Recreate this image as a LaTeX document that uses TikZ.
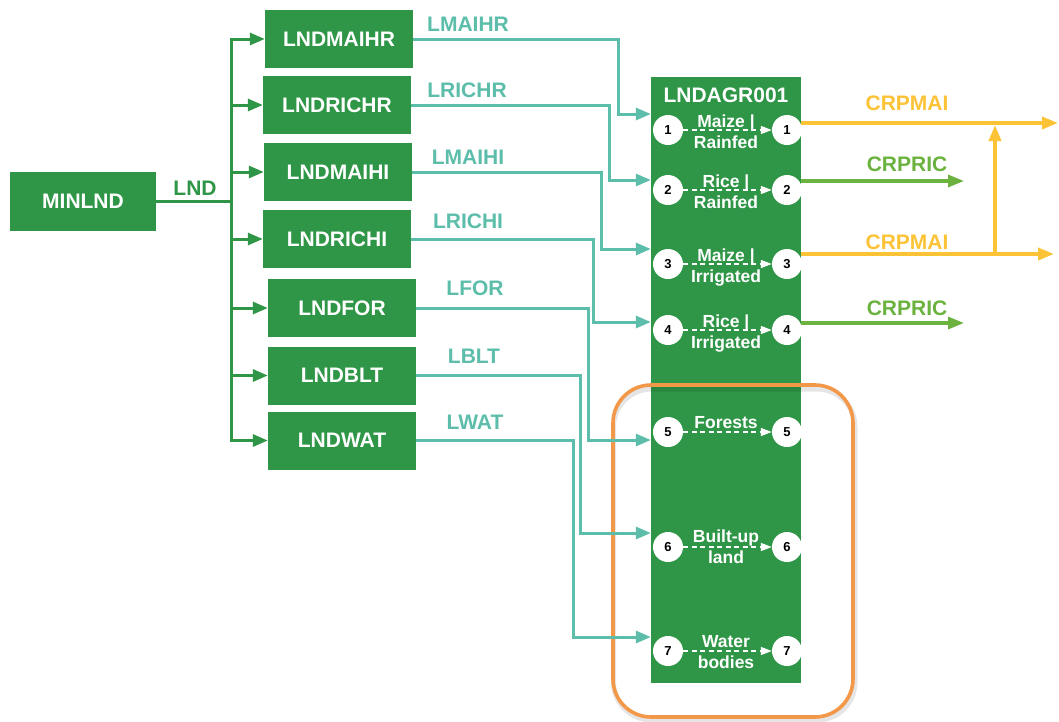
\documentclass[tikz,border=0pt]{standalone}
\usepackage{fontspec}
\setmainfont{Liberation Sans}
\usetikzlibrary{arrows.meta,calc}
\definecolor{dgreen}{RGB}{46,150,70}
\definecolor{tealc}{RGB}{92,190,170}
\definecolor{yel}{RGB}{252,195,55}
\definecolor{lgreen}{RGB}{108,178,62}
\definecolor{orng}{RGB}{243,152,72}
\tikzset{
  box/.style={fill=dgreen, draw=none, minimum width=148pt, minimum height=58pt, inner sep=0pt,
    text=white, font=\fontsize{21}{24}\selectfont\bfseries},
  big/.style={font=\fontsize{21}{24}\selectfont\bfseries, inner sep=0pt},
  inlbl/.style={font=\fontsize{17.5}{20}\selectfont\bfseries, text=white, inner sep=0pt, anchor=base},
  port/.style={circle, fill=white, draw=none, minimum size=30pt, inner sep=0pt,
    font=\fontsize{13}{15}\selectfont\bfseries, text=black},
  garrow/.style={draw=dgreen, line width=3pt, -{Triangle[length=15pt,width=12pt]}},
  tarrow/.style={draw=tealc, line width=3pt, -{Triangle[length=15pt,width=12pt]}},
  yarrow/.style={draw=yel, line width=3.6pt, -{Triangle[length=16pt,width=12pt]}},
  lgarrow/.style={draw=lgreen, line width=3.2pt, -{Triangle[length=16pt,width=12pt]}},
  darrow/.style={draw=white, line width=1.4pt, dash pattern=on 5pt off 3.5pt, -{Triangle[length=11pt,width=8pt]}},
}
\begin{document}
\begin{tikzpicture}[x=1pt,y=-1pt]
\useasboundingbox (0,0) rectangle (1059,721);
\fill[white] (0,0) rectangle (1059,721);

% left boxes
\node[box, minimum width=146pt, minimum height=59pt] (MINLND) at (83,201.5) {MINLND};
\node[box] (LNDMAIHR) at (339,39) {LNDMAIHR};
\node[box] (LNDRICHR) at (337,105) {LNDRICHR};
\node[box] (LNDMAIHI) at (338,172) {LNDMAIHI};
\node[box] (LNDRICHI) at (337,239) {LNDRICHI};
\node[box] (LNDFOR) at (342,308) {LNDFOR};
\node[box] (LNDBLT) at (342,375.5) {LNDBLT};
\node[box] (LNDWAT) at (342,440.5) {LNDWAT};

% trunk
\coordinate (trunk) at (231,201.5);
\draw[dgreen, line width=3pt] (MINLND.east) -- (trunk);
\node[big, text=dgreen] (lndlbl) at (195,188) {LND};
\foreach \b in {LNDMAIHR,LNDRICHR,LNDMAIHI,LNDRICHI,LNDFOR,LNDBLT,LNDWAT}
  \draw[garrow] (trunk) |- (\b.west);

% central box
\node[fill=dgreen, minimum width=150pt, minimum height=606pt, inner sep=0pt] (AGR) at (726,380) {};

% orange highlight with shadow
\draw[black, opacity=0.10, line width=5pt, rounded corners=38pt] (613.5,389) rectangle (855,720);
\draw[orng, line width=3.6pt, rounded corners=38pt] (613,385) rectangle (853,717);

\node[big, text=white] (agrtitle) at (726,95) {LNDAGR001};

% ports
\foreach \i/\y in {1/130,2/190,3/264,4/330,5/432,6/547,7/651}{
  \node[port] (L\i) at (668,\y) {\i};
  \node[port] (R\i) at (787,\y) {\i};
  \draw[darrow] (L\i) -- (R\i);
}
% inner labels
\node[inlbl] (t1a) at (726,127) {Maize |};
\node[inlbl] (t1b) at (726,148) {Rainfed};
\node[inlbl] (t2a) at (726,187) {Rice |};
\node[inlbl] (t2b) at (726,208) {Rainfed};
\node[inlbl] (t3a) at (726,261) {Maize |};
\node[inlbl] (t3b) at (726,282) {Irrigated};
\node[inlbl] (t4a) at (726,327) {Rice |};
\node[inlbl] (t4b) at (726,348) {Irrigated};
\node[inlbl] (t5a) at (726,428) {Forests};
\node[inlbl] (t6a) at (726,542) {Built-up};
\node[inlbl] (t6b) at (726,563) {land};
\node[inlbl] (t7a) at (726,647) {Water};
\node[inlbl] (t7b) at (726,668) {bodies};

% input coordinates
\coordinate (in1) at (AGR.west |- 0,114);
\coordinate (in2) at (AGR.west |- 0,180);
\coordinate (in3) at (AGR.west |- 0,249);
\coordinate (in4) at (AGR.west |- 0,322);
\coordinate (in5) at (AGR.west |- 0,440);
\coordinate (in6) at (AGR.west |- 0,533);
\coordinate (in7) at (AGR.west |- 0,637);
\coordinate (b1) at (618,114);
\coordinate (b2) at (609,180);
\coordinate (b3) at (601,249);
\coordinate (b4) at (593,322);
\coordinate (b5) at (588,440);
\coordinate (b6) at (580,533);
\coordinate (b7) at (573,637);

\draw[tarrow] (LNDMAIHR.east) -| (b1) -- (in1);
\draw[tarrow] (LNDRICHR.east) -| (b2) -- (in2);
\draw[tarrow] (LNDMAIHI.east) -| (b3) -- (in3);
\draw[tarrow] (LNDRICHI.east) -| (b4) -- (in4);
\draw[tarrow] (LNDFOR.east) -| (b5) -- (in5);
\draw[tarrow] (LNDBLT.east) -| (b6) -- (in6);
\draw[tarrow] (LNDWAT.east) -| (b7) -- (in7);

\node[big, text=tealc] (lmaihr) at (468,24) {LMAIHR};
\node[big, text=tealc] (lrichr) at (467,90) {LRICHR};
\node[big, text=tealc] (lmaihi) at (468,157) {LMAIHI};
\node[big, text=tealc] (lrichi) at (468,221) {LRICHI};
\node[big, text=tealc] (lfor) at (475,288) {LFOR};
\node[big, text=tealc] (lblt) at (474,356) {LBLT};
\node[big, text=tealc] (lwat) at (475,422) {LWAT};

% outputs
\coordinate (o1) at (AGR.east |- 0,123);
\coordinate (o2) at (AGR.east |- 0,181);
\coordinate (o3) at (AGR.east |- 0,254);
\coordinate (o4) at (AGR.east |- 0,323);
\coordinate (e1) at (1058,123);
\coordinate (e2) at (964,181);
\coordinate (e3) at (1054,254);
\coordinate (e4) at (964,323);
\coordinate (j3) at (995,254);
\coordinate (j1) at (995,124);
\draw[yarrow] (o1) -- (e1);
\draw[lgarrow] (o2) -- (e2);
\draw[yarrow] (o3) -- (e3);
\draw[lgarrow] (o4) -- (e4);
\draw[yarrow, shorten >=1pt] (j3) -- (j1);

\node[big, text=yel] (c1) at (907,103) {CRPMAI};
\node[big, text=lgreen] (c2) at (907,164) {CRPRIC};
\node[big, text=yel] (c3) at (907,242) {CRPMAI};
\node[big, text=lgreen] (c4) at (907,308) {CRPRIC};
\end{tikzpicture}
\end{document}
